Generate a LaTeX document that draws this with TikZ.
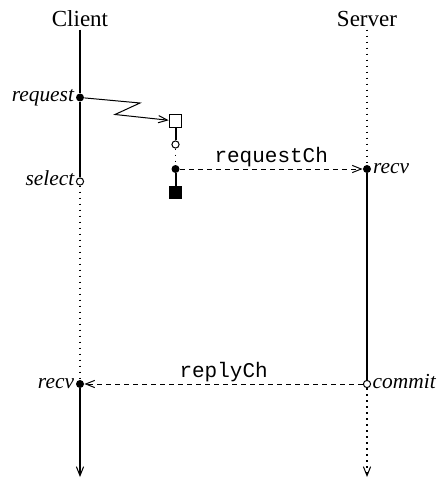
\documentclass[tikz,border=0pt]{standalone}
\usepackage{fontspec}
\setmainfont{Liberation Serif}
\setmonofont{Liberation Mono}
\usetikzlibrary{arrows.meta}

\begin{document}
\begin{tikzpicture}[x=0.5pt, y=-0.5pt,
    barb/.style={-{Straight Barb[length=4.5pt,width=3.6pt,line width=0.5pt]}},
    head/.style={font=\fontsize{11.5}{13}\selectfont, anchor=base, inner sep=1pt},
    evt/.style={circle, fill, inner sep=0pt, minimum size=4pt},
    oevt/.style={circle, draw, fill=white, line width=0.5pt, inner sep=0pt, minimum size=3.6pt},
    obox/.style={draw, fill=white, line width=0.5pt, inner sep=0pt, minimum size=6.3pt},
    fbox/.style={fill, inner sep=0pt, minimum size=6.5pt},
    lbl/.style={font=\itshape\fontsize{10.7}{12}\selectfont, inner sep=0.6pt, yshift=-2pt},
    chlbl/.style={font=\ttfamily\fontsize{10.5}{12}\selectfont, anchor=base, yshift=3.5pt},
    life/.style={line width=1pt},
    idle/.style={line width=0.8pt, dash pattern=on 0.8pt off 2.2pt},
    msg/.style={line width=0.5pt, dash pattern=on 2.5pt off 2pt, barb}]
  \useasboundingbox (0,0) rectangle (439,481);

  % lifeline heads
  \node[head] (cl) at (80,27) {Client};
  \node[head] (sv) at (367,27) {Server};

  % client events
  \node[evt, label={[lbl, anchor=base east]left:request}] (req) at (80,97.5) {};
  \node[oevt, label={[lbl, anchor=base east]left:select}] (sel) at (80,181.5) {};
  \node[evt, label={[lbl, anchor=base east]left:recv}] (crecv) at (80,384) {};
  \coordinate (cend) at (80,477);

  % server events
  \node[evt, label={[lbl, anchor=base west]right:recv}] (srecv) at (367,169) {};
  \node[oevt, label={[lbl, anchor=base west]right:commit}] (commit) at (367,384) {};
  \coordinate (send) at (367,477);

  % the request in between
  \node[obox] (sq) at (175.5,121) {};
  \node[oevt] (oc) at (175.5,144.5) {};
  \node[evt] (put) at (175.5,169) {};
  \node[fbox] (fsq) at (175.5,192.5) {};
  \coordinate (z1) at (140,103);
  \coordinate (z2) at (115,114.5);

  % client lifeline
  \draw[life] (cl.south) -- (req);
  \draw[life] (req) -- (sel);
  \draw[idle] (sel) -- (crecv);
  \draw[life, barb] (crecv) -- (cend);

  % server lifeline
  \draw[idle] (sv.south) -- (srecv);
  \draw[life] (srecv) -- (commit);
  \draw[idle, barb] (commit) -- (send);

  % request path
  \draw[line width=0.5pt, barb] (req) -- (z1) -- (z2) -- (sq);
  \draw[life] (sq) -- (oc);
  \draw[idle] (oc) -- (put);
  \draw[life] (put) -- (fsq);

  % messages
  \draw[msg] (put) to node[chlbl] {requestCh} (srecv);
  \draw[msg] (commit) to node[chlbl] {replyCh} (crecv);
\end{tikzpicture}
\end{document}
